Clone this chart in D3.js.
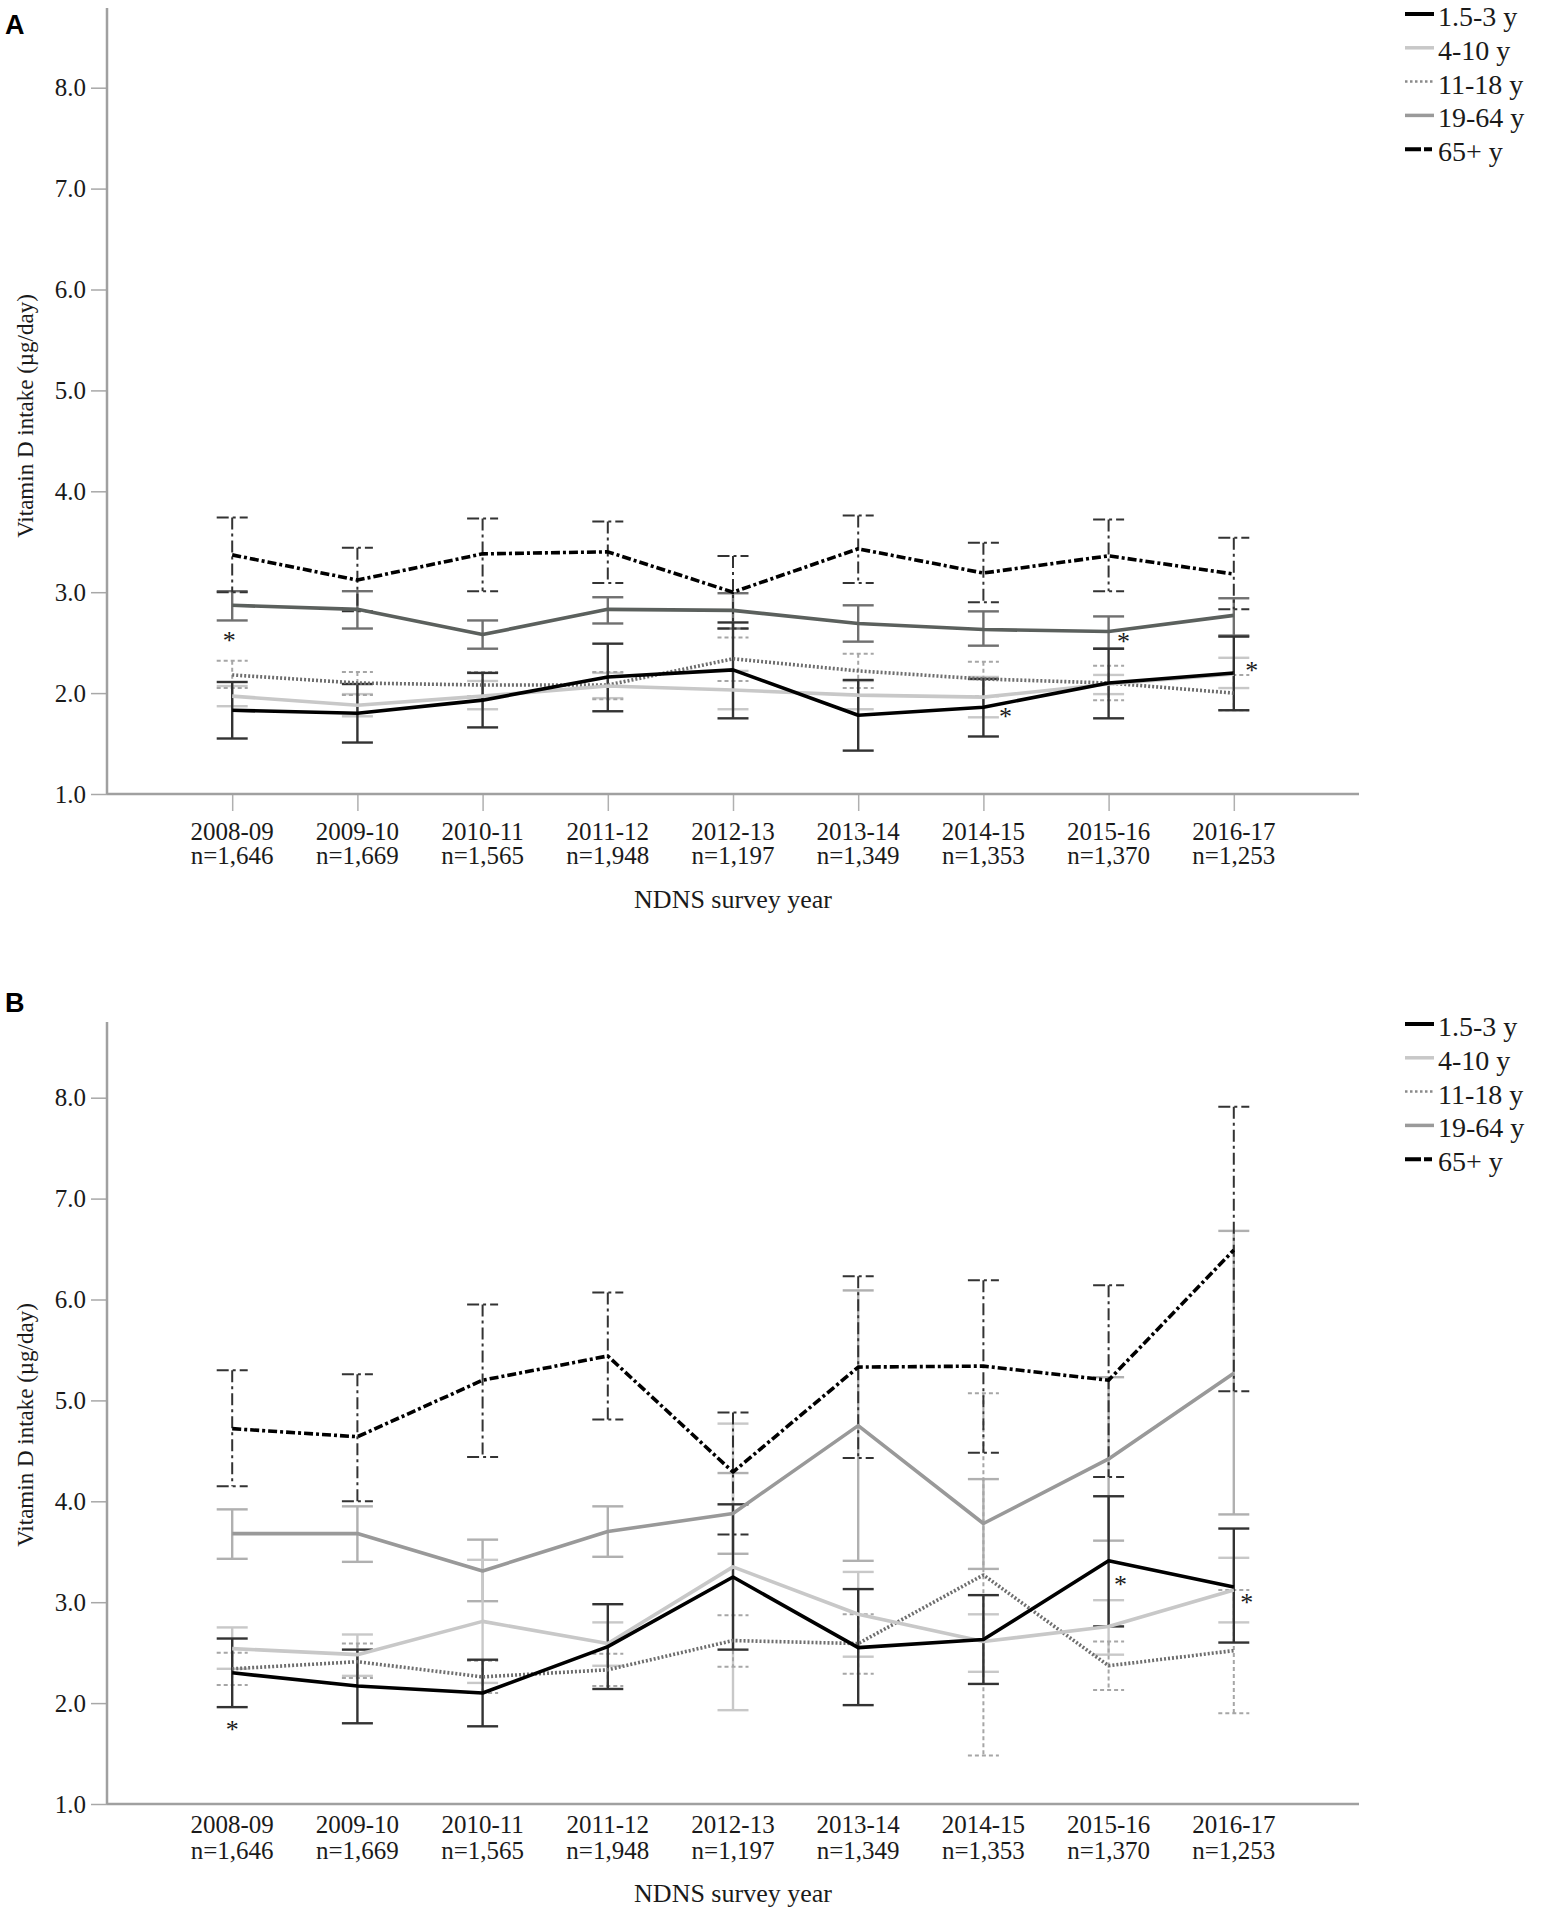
<!DOCTYPE html>
<html><head><meta charset="utf-8">
<script src="https://cdn.jsdelivr.net/npm/d3@7"></script>
<style>
body{margin:0;background:#fff}
svg{display:block}
text{font-family:"Liberation Serif","Times New Roman",serif;fill:#1a1a1a}
</style>
</head><body>
<svg id="chart" width="1543" height="1920"></svg>
<script>
// ---------- shared ----------
const categories = ["2008-09","2009-10","2010-11","2011-12","2012-13","2013-14","2014-15","2015-16","2016-17"];
const sampleSizes = ["n=1,646","n=1,669","n=1,565","n=1,948","n=1,197","n=1,349","n=1,353","n=1,370","n=1,253"];
const yTicks = [1,2,3,4,5,6,7,8];
const groups = ["1.5-3 y","4-10 y","11-18 y","19-64 y","65+ y"];
const yTitle = "Vitamin D intake (\u00b5g/day)";
const xTitle = "NDNS survey year";

// ---------- panel A ----------
const aMean15 = [1.83,1.80,1.93,2.16,2.23,1.78,1.86,2.10,2.20];
const aLow15  = [1.55,1.51,1.66,1.82,1.75,1.43,1.57,1.75,1.83];
const aHigh15 = [2.11,2.09,2.20,2.49,2.70,2.13,2.14,2.44,2.56];
const aMean410 = [1.97,1.88,1.97,2.07,2.03,1.98,1.96,2.09,2.19];
const aLow410  = [1.87,1.77,1.84,1.95,1.84,1.84,1.76,1.99,2.05];
const aHigh410 = [2.07,1.99,2.12,2.20,2.22,2.12,2.16,2.18,2.35];
const aMean1118 = [2.18,2.10,2.08,2.08,2.34,2.22,2.14,2.10,2.00];
const aLow1118  = [2.05,1.98,1.97,1.94,2.12,2.05,1.97,1.93,1.83];
const aHigh1118 = [2.32,2.21,2.21,2.21,2.55,2.39,2.31,2.27,2.18];
const aMean1964 = [2.87,2.83,2.58,2.83,2.82,2.69,2.63,2.61,2.77];
const aLow1964  = [2.72,2.64,2.44,2.69,2.64,2.51,2.47,2.44,2.57];
const aHigh1964 = [3.01,3.01,2.72,2.95,2.99,2.87,2.81,2.76,2.94];
const aMean65 = [3.37,3.12,3.38,3.40,3.00,3.43,3.19,3.36,3.18];
const aLow65  = [3.00,2.81,3.01,3.09,2.64,3.09,2.90,3.01,2.83];
const aHigh65 = [3.74,3.44,3.73,3.70,3.36,3.76,3.49,3.72,3.54];
const aStarCats = ["2008-09","2014-15","2015-16","2016-17"];
const aStarVals = [2.56,1.80,2.55,2.26];

// ---------- panel B ----------
const bMean15 = [2.30,2.17,2.10,2.56,3.25,2.55,2.63,3.41,3.15];
const bLow15  = [1.96,1.80,1.77,2.14,2.53,1.98,2.19,2.76,2.60];
const bHigh15 = [2.64,2.53,2.43,2.98,3.97,3.13,3.07,4.05,3.73];
const bMean410 = [2.54,2.48,2.81,2.59,3.35,2.88,2.61,2.76,3.12];
const bLow410  = [2.34,2.27,2.20,2.37,1.93,2.46,2.31,2.48,2.80];
const bHigh410 = [2.75,2.68,3.42,2.80,4.77,3.30,2.88,3.02,3.44];
const bMean1118 = [2.34,2.41,2.26,2.33,2.62,2.59,3.27,2.37,2.52];
const bLow1118  = [2.18,2.25,2.10,2.17,2.36,2.29,1.48,2.13,1.90];
const bHigh1118 = [2.50,2.59,2.42,2.49,2.87,2.88,5.07,2.61,3.12];
const bMean1964 = [3.68,3.68,3.31,3.70,3.88,4.75,3.78,4.42,5.27];
const bLow1964  = [3.43,3.40,3.01,3.45,3.48,3.41,3.33,3.61,3.87];
const bHigh1964 = [3.92,3.95,3.62,3.95,4.28,6.09,4.22,5.23,6.68];
const bMean65 = [4.72,4.64,5.20,5.44,4.29,5.33,5.34,5.20,6.49];
const bLow65  = [4.15,4.00,4.44,4.81,3.67,4.43,4.48,4.24,5.09];
const bHigh65 = [5.30,5.26,5.95,6.07,4.88,6.23,6.19,6.14,7.91];
const bStarCats = ["2008-09","2015-16","2016-17"];
const bStarVals = [1.77,3.21,3.03];

// ---------- styles ----------
function seriesStyles(mid){
  return {
    "1.5-3 y": {line:"#000", lw:3.6, dash:null,      eb:"#333",    ebw:2.4, ebDash:null},
    "4-10 y":  {line:"#c8c8c8", lw:3.6, dash:null,   eb:"#c8c8c8", ebw:2.4, ebDash:null},
    "11-18 y": {line:"#6e6e6e", lw:3.6, dash:"2,2",  eb:"#a6a6a6", ebw:2,   ebDash:"4,3"},
    "19-64 y": {line:mid.line, lw:3.6, dash:null,    eb:mid.eb,    ebw:2.4, ebDash:null},
    "65+ y":   {line:"#000", lw:3.6, dash:"9,3,3,3", eb:"#333",    ebw:2,   ebDash:"12,4,3,4"}
  };
}
const legendStyles = {
  "1.5-3 y": {c:"#000", w:4, d:null},
  "4-10 y":  {c:"#c8c8c8", w:3.5, d:null},
  "11-18 y": {c:"#8a8a8a", w:2.5, d:"2.5,2.5"},
  "19-64 y": {c:"#9a9a9a", w:3.5, d:null},
  "65+ y":   {c:"#000", w:4, d:"16,3,8,30"}
};

const svg = d3.select("#chart");

function drawPanel(p){
  const g = svg.append("g");
  const x = d3.scalePoint().domain(categories).range([107,1359]).padding(1);
  const y = d3.scaleLinear().domain([1,8]).range([p.y1, p.y1 - 7*100.9]);
  const st = seriesStyles(p.mid);

  // panel letter
  g.append("text").attr("x",5).attr("y",p.letterY).text(p.letter)
    .style("font-family","'Liberation Sans',Arial,sans-serif").style("font-weight","bold")
    .style("font-size","27px").style("fill","#000");

  // y axis
  const ya = g.append("g").attr("transform","translate(107,0)")
    .call(d3.axisLeft(y).tickValues(yTicks).tickFormat(d3.format(".1f")).tickSize(16).tickPadding(5));
  ya.select(".domain").remove();
  ya.selectAll(".tick line").attr("stroke","#a8a8a8").attr("stroke-width",1.5);
  ya.selectAll(".tick text").style("font-size","25px").style("font-family","'Liberation Serif',serif").attr("fill","#222");
  g.append("line").attr("x1",107).attr("x2",107).attr("y1",p.top).attr("y2",p.y1)
    .attr("stroke","#a0a0a0").attr("stroke-width",2.5);

  // x axis
  const xa = g.append("g").attr("transform",`translate(0,${p.y1})`)
    .call(d3.axisBottom(x).tickSize(p.xTick).tickFormat(""));
  xa.select(".domain").remove();
  xa.selectAll(".tick line").attr("stroke","#b0b0b0").attr("stroke-width",1.5);
  g.append("line").attr("x1",107).attr("x2",1359).attr("y1",p.y1).attr("y2",p.y1)
    .attr("stroke","#a0a0a0").attr("stroke-width",2.5);

  const lab = g.append("g");
  categories.forEach((c,i)=>{
    const t = lab.append("text").attr("text-anchor","middle").style("font-size","25px");
    t.append("tspan").attr("x",x(c)).attr("y",p.lab1).text(c);
    t.append("tspan").attr("x",x(c)).attr("y",p.lab2).text(sampleSizes[i]);
  });
  g.append("text").attr("x",733).attr("y",p.xTitleY).attr("text-anchor","middle")
    .style("font-size","26px").text(xTitle);
  g.append("text").attr("transform",`translate(33,${p.yTitleC}) rotate(-90)`)
    .attr("text-anchor","middle").style("font-size","23px").text(yTitle);

  // error bars
  const ebOrder = ["19-64 y","4-10 y","11-18 y","65+ y","1.5-3 y"];
  ebOrder.forEach(name=>{
    const s = p.series[name], sty = st[name];
    const eg = g.append("g").attr("stroke",sty.eb).attr("stroke-width",sty.ebw)
      .attr("fill","none").attr("stroke-dasharray",sty.ebDash);
    categories.forEach((c,i)=>{
      const cx = x(c), yl = y(s.low[i]), yh = y(s.high[i]);
      eg.append("line").attr("x1",cx).attr("x2",cx).attr("y1",yh).attr("y2",yl);
      eg.append("line").attr("x1",cx-15.5).attr("x2",cx+15.5).attr("y1",yh).attr("y2",yh);
      eg.append("line").attr("x1",cx-15.5).attr("x2",cx+15.5).attr("y1",yl).attr("y2",yl);
    });
  });

  // lines
  const lineOrder = ["65+ y","19-64 y","11-18 y","4-10 y","1.5-3 y"];
  lineOrder.forEach(name=>{
    const s = p.series[name], sty = st[name];
    const line = d3.line().x((d,i)=>x(categories[i])).y(d=>y(d));
    g.append("path").datum(s.mean).attr("d",line).attr("fill","none")
      .attr("stroke",sty.line).attr("stroke-width",sty.lw)
      .attr("stroke-dasharray",sty.dash).attr("stroke-linejoin","round");
  });

  // asterisks
  p.starCats.forEach((c,i)=>{
    g.append("text").attr("x",x(c)+p.starDx[i]).attr("y",y(p.starVals[i])+12)
      .attr("text-anchor","middle").style("font-size","26px").attr("fill","#333").text("*");
  });

  // legend
  groups.forEach((name,i)=>{
    const ly = p.legY + i*33.8;
    const ls = legendStyles[name];
    g.append("line").attr("x1",1405).attr("x2",1434).attr("y1",ly).attr("y2",ly)
      .attr("stroke",ls.c).attr("stroke-width",ls.w).attr("stroke-dasharray",ls.d);
    g.append("text").attr("x",1438).attr("y",ly+12).style("font-size","28px").attr("fill","#111").text(name);
  });
}

drawPanel({
  letter:"A", letterY:34, top:8, y1:794, xTick:17, lab1:840, lab2:864, xTitleY:908, yTitleC:416, legY:14,
  mid:{line:"#5b605d", eb:"#707070"},
  series:{
    "1.5-3 y":{mean:aMean15,low:aLow15,high:aHigh15},
    "4-10 y":{mean:aMean410,low:aLow410,high:aHigh410},
    "11-18 y":{mean:aMean1118,low:aLow1118,high:aHigh1118},
    "19-64 y":{mean:aMean1964,low:aLow1964,high:aHigh1964},
    "65+ y":{mean:aMean65,low:aLow65,high:aHigh65}
  },
  starCats:aStarCats, starVals:aStarVals, starDx:[-3,22,15,18]
});

drawPanel({
  letter:"B", letterY:1012, top:1022, y1:1804, xTick:0, lab1:1833, lab2:1859, xTitleY:1902, yTitleC:1425, legY:1024,
  mid:{line:"#999999", eb:"#b0b0b0"},
  series:{
    "1.5-3 y":{mean:bMean15,low:bLow15,high:bHigh15},
    "4-10 y":{mean:bMean410,low:bLow410,high:bHigh410},
    "11-18 y":{mean:bMean1118,low:bLow1118,high:bHigh1118},
    "19-64 y":{mean:bMean1964,low:bLow1964,high:bHigh1964},
    "65+ y":{mean:bMean65,low:bLow65,high:bHigh65}
  },
  starCats:bStarCats, starVals:bStarVals, starDx:[0,12,13]
});
</script>
</body></html>
